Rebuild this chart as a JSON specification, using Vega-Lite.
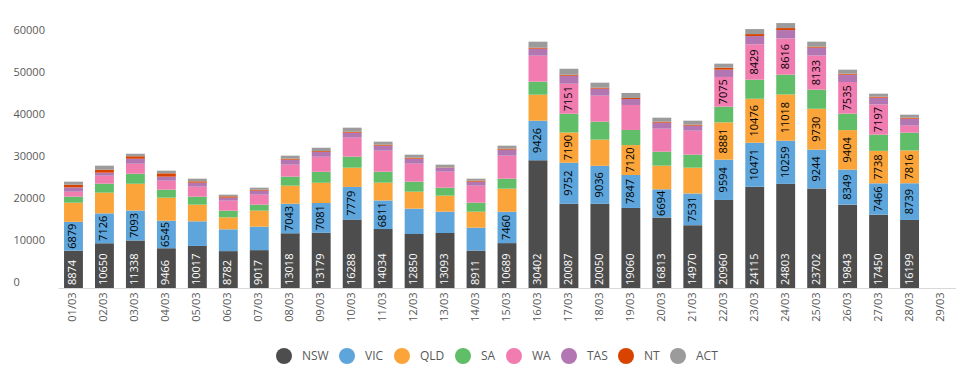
{
  "$schema": "https://vega.github.io/schema/vega-lite/v6.json",
  "autosize": "none",
  "width": 898,
  "height": 273,
  "padding": {"left": 58, "top": 15, "right": 0, "bottom": 83},
  "background": "white",
  "config": {"view": {"stroke": null}, "font": "Open Sans"},
  "data": {"values": [
    {"date":"01/03","state":"NSW","value":8874},{"date":"01/03","state":"VIC","value":6879},{"date":"01/03","state":"QLD","value":4564},{"date":"01/03","state":"SA","value":1429},{"date":"01/03","state":"WA","value":1191},{"date":"01/03","state":"TAS","value":1031},{"date":"01/03","state":"NT","value":635},{"date":"01/03","state":"ACT","value":714},
    {"date":"02/03","state":"NSW","value":10650},{"date":"02/03","state":"VIC","value":7126},{"date":"02/03","state":"QLD","value":4922},{"date":"02/03","state":"SA","value":2143},{"date":"02/03","state":"WA","value":1905},{"date":"02/03","state":"TAS","value":714},{"date":"02/03","state":"NT","value":715},{"date":"02/03","state":"ACT","value":952},
    {"date":"03/03","state":"NSW","value":11338},{"date":"03/03","state":"VIC","value":7093},{"date":"03/03","state":"QLD","value":6410},{"date":"03/03","state":"SA","value":2381},{"date":"03/03","state":"WA","value":2381},{"date":"03/03","state":"TAS","value":1191},{"date":"03/03","state":"NT","value":555},{"date":"03/03","state":"ACT","value":635},
    {"date":"04/03","state":"NSW","value":9466},{"date":"04/03","state":"VIC","value":6545},{"date":"04/03","state":"QLD","value":5497},{"date":"04/03","state":"SA","value":1905},{"date":"04/03","state":"WA","value":2143},{"date":"04/03","state":"TAS","value":952},{"date":"04/03","state":"NT","value":794},{"date":"04/03","state":"ACT","value":635},
    {"date":"05/03","state":"NSW","value":10017},{"date":"05/03","state":"VIC","value":5856},{"date":"05/03","state":"QLD","value":3968},{"date":"05/03","state":"SA","value":1905},{"date":"05/03","state":"WA","value":2381},{"date":"05/03","state":"TAS","value":952},{"date":"05/03","state":"NT","value":318},{"date":"05/03","state":"ACT","value":635},
    {"date":"06/03","state":"NSW","value":8782},{"date":"06/03","state":"VIC","value":5186},{"date":"06/03","state":"QLD","value":2857},{"date":"06/03","state":"SA","value":1588},{"date":"06/03","state":"WA","value":2381},{"date":"06/03","state":"TAS","value":714},{"date":"06/03","state":"NT","value":317},{"date":"06/03","state":"ACT","value":397},
    {"date":"07/03","state":"NSW","value":9017},{"date":"07/03","state":"VIC","value":5586},{"date":"07/03","state":"QLD","value":3810},{"date":"07/03","state":"SA","value":1428},{"date":"07/03","state":"WA","value":2381},{"date":"07/03","state":"TAS","value":953},{"date":"07/03","state":"NT","value":238},{"date":"07/03","state":"ACT","value":476},
    {"date":"08/03","state":"NSW","value":13018},{"date":"08/03","state":"VIC","value":7043},{"date":"08/03","state":"QLD","value":4304},{"date":"08/03","state":"SA","value":2143},{"date":"08/03","state":"WA","value":2857},{"date":"08/03","state":"TAS","value":1191},{"date":"08/03","state":"NT","value":238},{"date":"08/03","state":"ACT","value":714},
    {"date":"09/03","state":"NSW","value":13179},{"date":"09/03","state":"VIC","value":7081},{"date":"09/03","state":"QLD","value":4819},{"date":"09/03","state":"SA","value":2619},{"date":"09/03","state":"WA","value":3572},{"date":"09/03","state":"TAS","value":1190},{"date":"09/03","state":"NT","value":150},{"date":"09/03","state":"ACT","value":800},
    {"date":"10/03","state":"NSW","value":16288},{"date":"10/03","state":"VIC","value":7779},{"date":"10/03","state":"QLD","value":4584},{"date":"10/03","state":"SA","value":2619},{"date":"10/03","state":"WA","value":4524},{"date":"10/03","state":"TAS","value":1190},{"date":"10/03","state":"NT","value":238},{"date":"10/03","state":"ACT","value":953},
    {"date":"11/03","state":"NSW","value":14034},{"date":"11/03","state":"VIC","value":6811},{"date":"11/03","state":"QLD","value":4234},{"date":"11/03","state":"SA","value":2619},{"date":"11/03","state":"WA","value":5000},{"date":"11/03","state":"TAS","value":1191},{"date":"11/03","state":"NT","value":238},{"date":"11/03","state":"ACT","value":714},
    {"date":"12/03","state":"NSW","value":12850},{"date":"12/03","state":"VIC","value":6039},{"date":"12/03","state":"QLD","value":4048},{"date":"12/03","state":"SA","value":2380},{"date":"12/03","state":"WA","value":4286},{"date":"12/03","state":"TAS","value":1191},{"date":"12/03","state":"NT","value":238},{"date":"12/03","state":"ACT","value":714},
    {"date":"13/03","state":"NSW","value":13093},{"date":"13/03","state":"VIC","value":5082},{"date":"13/03","state":"QLD","value":3809},{"date":"13/03","state":"SA","value":1905},{"date":"13/03","state":"WA","value":3809},{"date":"13/03","state":"TAS","value":953},{"date":"13/03","state":"NT","value":80},{"date":"13/03","state":"ACT","value":634},
    {"date":"14/03","state":"NSW","value":8911},{"date":"14/03","state":"VIC","value":5454},{"date":"14/03","state":"QLD","value":3810},{"date":"14/03","state":"SA","value":2142},{"date":"14/03","state":"WA","value":4048},{"date":"14/03","state":"TAS","value":952},{"date":"14/03","state":"NT","value":239},{"date":"14/03","state":"ACT","value":476},
    {"date":"15/03","state":"NSW","value":10689},{"date":"15/03","state":"VIC","value":7460},{"date":"15/03","state":"QLD","value":5502},{"date":"15/03","state":"SA","value":2381},{"date":"15/03","state":"WA","value":5476},{"date":"15/03","state":"TAS","value":1429},{"date":"15/03","state":"NT","value":238},{"date":"15/03","state":"ACT","value":714},
    {"date":"16/03","state":"NSW","value":30402},{"date":"16/03","state":"VIC","value":9426},{"date":"16/03","state":"QLD","value":6204},{"date":"16/03","state":"SA","value":3095},{"date":"16/03","state":"WA","value":6190},{"date":"16/03","state":"TAS","value":1667},{"date":"16/03","state":"NT","value":238},{"date":"16/03","state":"ACT","value":1429},
    {"date":"17/03","state":"NSW","value":20087},{"date":"17/03","state":"VIC","value":9752},{"date":"17/03","state":"QLD","value":7190},{"date":"17/03","state":"SA","value":4479},{"date":"17/03","state":"WA","value":7151},{"date":"17/03","state":"TAS","value":1897},{"date":"17/03","state":"NT","value":238},{"date":"17/03","state":"ACT","value":1428},
    {"date":"18/03","state":"NSW","value":20050},{"date":"18/03","state":"VIC","value":9036},{"date":"18/03","state":"QLD","value":6231},{"date":"18/03","state":"SA","value":4286},{"date":"18/03","state":"WA","value":6191},{"date":"18/03","state":"TAS","value":1666},{"date":"18/03","state":"NT","value":238},{"date":"18/03","state":"ACT","value":1191},
    {"date":"19/03","state":"NSW","value":19060},{"date":"19/03","state":"VIC","value":7847},{"date":"19/03","state":"QLD","value":7120},{"date":"19/03","state":"SA","value":3600},{"date":"19/03","state":"WA","value":5953},{"date":"19/03","state":"TAS","value":1428},{"date":"19/03","state":"NT","value":238},{"date":"19/03","state":"ACT","value":1191},
    {"date":"20/03","state":"NSW","value":16813},{"date":"20/03","state":"VIC","value":6694},{"date":"20/03","state":"QLD","value":5620},{"date":"20/03","state":"SA","value":3333},{"date":"20/03","state":"WA","value":5477},{"date":"20/03","state":"TAS","value":1428},{"date":"20/03","state":"NT","value":238},{"date":"20/03","state":"ACT","value":953},
    {"date":"21/03","state":"NSW","value":14970},{"date":"21/03","state":"VIC","value":7531},{"date":"21/03","state":"QLD","value":6150},{"date":"21/03","state":"SA","value":3095},{"date":"21/03","state":"WA","value":5714},{"date":"21/03","state":"TAS","value":1191},{"date":"21/03","state":"NT","value":238},{"date":"21/03","state":"ACT","value":952},
    {"date":"22/03","state":"NSW","value":20960},{"date":"22/03","state":"VIC","value":9594},{"date":"22/03","state":"QLD","value":8881},{"date":"22/03","state":"SA","value":3740},{"date":"22/03","state":"WA","value":7075},{"date":"22/03","state":"TAS","value":1734},{"date":"22/03","state":"NT","value":476},{"date":"22/03","state":"ACT","value":953},
    {"date":"23/03","state":"NSW","value":24115},{"date":"23/03","state":"VIC","value":10471},{"date":"23/03","state":"QLD","value":10476},{"date":"23/03","state":"SA","value":4541},{"date":"23/03","state":"WA","value":8429},{"date":"23/03","state":"TAS","value":1950},{"date":"23/03","state":"NT","value":477},{"date":"23/03","state":"ACT","value":1190},
    {"date":"24/03","state":"NSW","value":24803},{"date":"24/03","state":"VIC","value":10259},{"date":"24/03","state":"QLD","value":11018},{"date":"24/03","state":"SA","value":4714},{"date":"24/03","state":"WA","value":8616},{"date":"24/03","state":"TAS","value":2000},{"date":"24/03","state":"NT","value":476},{"date":"24/03","state":"ACT","value":1191},
    {"date":"25/03","state":"NSW","value":23702},{"date":"25/03","state":"VIC","value":9244},{"date":"25/03","state":"QLD","value":9730},{"date":"25/03","state":"SA","value":4546},{"date":"25/03","state":"WA","value":8133},{"date":"25/03","state":"TAS","value":1867},{"date":"25/03","state":"NT","value":238},{"date":"25/03","state":"ACT","value":1191},
    {"date":"26/03","state":"NSW","value":19843},{"date":"26/03","state":"VIC","value":8349},{"date":"26/03","state":"QLD","value":9404},{"date":"26/03","state":"SA","value":3912},{"date":"26/03","state":"WA","value":7535},{"date":"26/03","state":"TAS","value":1751},{"date":"26/03","state":"NT","value":238},{"date":"26/03","state":"ACT","value":952},
    {"date":"27/03","state":"NSW","value":17450},{"date":"27/03","state":"VIC","value":7466},{"date":"27/03","state":"QLD","value":7738},{"date":"27/03","state":"SA","value":3854},{"date":"27/03","state":"WA","value":7197},{"date":"27/03","state":"TAS","value":1612},{"date":"27/03","state":"NT","value":238},{"date":"27/03","state":"ACT","value":714},
    {"date":"28/03","state":"NSW","value":16199},{"date":"28/03","state":"VIC","value":8739},{"date":"28/03","state":"QLD","value":7816},{"date":"28/03","state":"SA","value":4230},{"date":"28/03","state":"WA","value":1667},{"date":"28/03","state":"TAS","value":1666},{"date":"28/03","state":"NT","value":239},{"date":"28/03","state":"ACT","value":714}
  ]},
  "transform": [
    {"stack": "value", "groupby": ["date"], "as": ["y0", "y1"]},
    {"calculate": "(datum.y0 + datum.y1) / 2", "as": "ymid"}
  ],
  "encoding": {
    "x": {
      "field": "date", "type": "nominal", "sort": null,
      "scale": {
        "domain": ["01/03","02/03","03/03","04/03","05/03","06/03","07/03","08/03","09/03","10/03","11/03","12/03","13/03","14/03","15/03","16/03","17/03","18/03","19/03","20/03","21/03","22/03","23/03","24/03","25/03","26/03","27/03","28/03","29/03"],
        "paddingInner": 0.39, "paddingOuter": 0.195
      },
      "axis": {
        "title": null, "labelAngle": 270, "labelPadding": 4, "ticks": false,
        "domainColor": "#d9d9d9", "domainWidth": 1, "labelFontSize": 11, "labelColor": "#595959",
        "labelFont": "Open Sans"
      }
    }
  },
  "layer": [
    {
      "mark": {"type": "bar"},
      "encoding": {
        "y": {
          "field": "y1", "type": "quantitative",
          "scale": {"domain": [0, 65000], "nice": false},
          "axis": {
            "title": null, "values": [0, 10000, 20000, 30000, 40000, 50000, 60000], "format": "d",
            "grid": false, "domain": false, "ticks": false, "tickSize": 0,
            "labelAlign": "left", "labelPadding": 45, "labelOffset": -6,
            "labelFontSize": 11, "labelColor": "#595959", "labelFont": "Open Sans"
          }
        },
        "y2": {"field": "y0"},
        "color": {
          "field": "state", "type": "nominal",
          "scale": {
            "domain": ["NSW","VIC","QLD","SA","WA","TAS","NT","ACT"],
            "range": ["#4d4d4d","#5da5da","#faa43a","#60bd68","#f17cb0","#b276b2","#d84300","#9b9b9b"]
          },
          "legend": {
            "title": null, "orient": "none", "direction": "horizontal",
            "legendX": 218, "legendY": 333,
            "symbolType": "circle", "symbolSize": 256, "symbolStrokeWidth": 0,
            "labelOffset": 10, "columnPadding": 10,
            "labelFontSize": 12, "labelColor": "#595959", "labelFont": "Open Sans"
          }
        }
      }
    },
    {
      "transform": [{"filter": "datum.state != 'NSW' && datum.value >= 6500"}],
      "mark": {"type": "text", "angle": 270, "align": "center", "baseline": "middle", "fontSize": 11, "color": "#000000", "font": "Open Sans"},
      "encoding": {
        "y": {"field": "ymid", "type": "quantitative"},
        "text": {"field": "value", "type": "quantitative", "format": "d"}
      }
    },
    {
      "transform": [{"filter": "datum.state == 'NSW'"}],
      "mark": {"type": "text", "angle": 270, "align": "left", "baseline": "middle", "dx": 3, "fontSize": 11, "color": "#ffffff", "font": "Open Sans"},
      "encoding": {
        "y": {"field": "y0", "type": "quantitative"},
        "text": {"field": "value", "type": "quantitative", "format": "d"}
      }
    }
  ]
}
